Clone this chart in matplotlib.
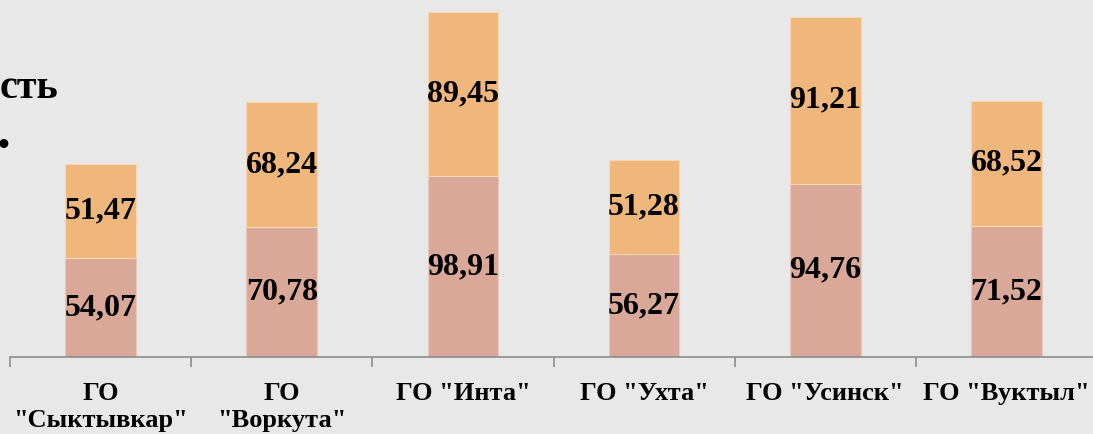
import numpy as np
import matplotlib.pyplot as plt

# ---------------------------------------------------------
# Data
# ---------------------------------------------------------

categories = ['ГО\n"Сыктывкар"', 'ГО\n"Воркута"', 'ГО "Инта"',
              'ГО "Ухта"', 'ГО "Усинск"', 'ГО "Вуктыл"']
lower_values = [54.07, 70.78, 98.91, 56.27, 94.76, 71.52]
upper_values = [51.47, 68.24, 89.45, 51.28, 91.21, 68.52]

lower_color = "#D9A899"
upper_color = "#F0B77C"
bg_color = "#E8E8E8"

plt.rcParams['font.family'] = ['Liberation Serif', 'DejaVu Serif']

# ---------------------------------------------------------
# Figure
# ---------------------------------------------------------

fig = plt.figure(figsize=(10.93, 4.34), dpi=100)
fig.patch.set_facecolor(bg_color)

ax = fig.add_axes([10 / 1093, 77 / 434, 1087 / 1093, 357 / 434])
ax.set_facecolor("none")

x = np.arange(len(categories))
bar_w = 0.39

ax.bar(x, lower_values, width=bar_w, color=lower_color,
       edgecolor="#E9C9BE", linewidth=0.8)
ax.bar(x, upper_values, width=bar_w, bottom=lower_values,
       color=upper_color, edgecolor="#F6D6B4", linewidth=0.8)

for i in range(len(categories)):
    lo = lower_values[i]
    up = upper_values[i]
    ax.text(x[i], lo / 2, f"{lo:.2f}".replace(".", ","),
            ha="center", va="center", fontsize=23, fontweight="bold")
    ax.text(x[i], lo + up / 2, f"{up:.2f}".replace(".", ","),
            ha="center", va="center", fontsize=23, fontweight="bold")

ax.set_xlim(-0.5, len(categories) - 0.5)
ax.set_ylim(0, 195)

for side in ["top", "right", "left"]:
    ax.spines[side].set_visible(False)
ax.spines["bottom"].set_color("#8C8C8C")
ax.spines["bottom"].set_linewidth(1.2)

ax.set_yticks([])
ax.set_xticks(x)
ax.set_xticklabels(categories, fontsize=19, fontweight="bold",
                   linespacing=1.25)
ax.tick_params(axis="x", which="major", length=0, pad=18)
ax.set_xticks(np.arange(len(categories) + 1) - 0.5, minor=True)
ax.tick_params(axis="x", which="minor", length=7, color="#8C8C8C",
               width=1.2)

# cut-off slide title on the left
fig.text(0 / 1093, 1 - 98 / 434, "сть", fontsize=29, fontweight="bold",
         ha="left", va="baseline")
fig.text(-2 / 1093, 1 - 155 / 434, "•", fontsize=24, fontweight="bold",
         ha="left", va="baseline")

fig.savefig("out.png", dpi=100, facecolor=bg_color)
